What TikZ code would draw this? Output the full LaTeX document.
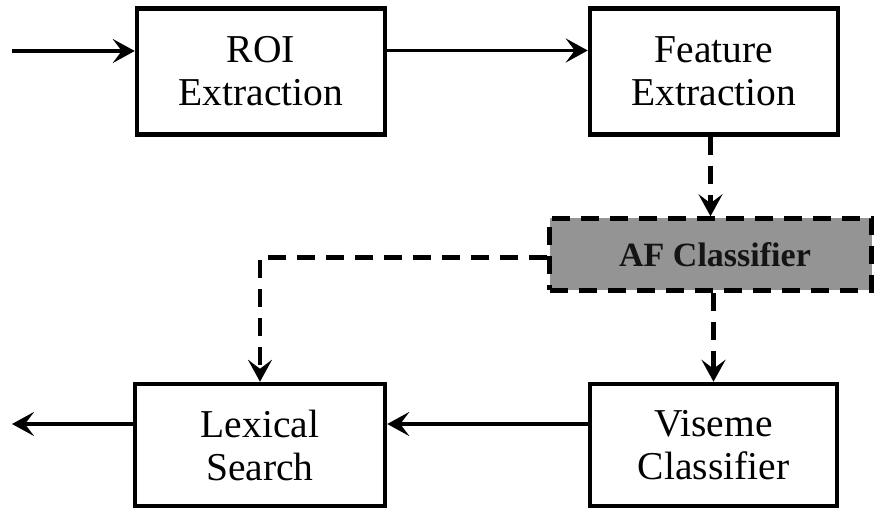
\documentclass[tikz,border=0pt]{standalone}
\usepackage{fontspec}
\setmainfont{Liberation Serif}
\usetikzlibrary{arrows.meta,calc}
\begin{document}
\begin{tikzpicture}[x=1pt,y=1pt,
  blockbox/.style={draw=black, line width=4.5pt, minimum width=248pt, minimum height=126pt,
    align=center, font=\fontsize{39.5}{43}\selectfont, inner sep=0pt},
  afbox/.style={draw=black, line width=4.5pt, dash pattern=on 18pt off 11pt, fill=black!42,
    minimum width=322pt, minimum height=72pt, inner sep=0pt,
    font=\fontsize{34}{40}\selectfont\bfseries, text=black!92},
  tip/.style={-{Stealth[length=22pt,width=24pt,inset=9pt]}},
  flow/.style={line width=3.5pt, tip},
  dflow/.style={line width=4.5pt, dash pattern=on 18pt off 11pt, tip}
]
\useasboundingbox (0,0) rectangle (877,509);

% processing blocks
\node[blockbox] (roi) at (261,437.5) {ROI\\Extraction};
\node[blockbox] (feat) at (714,437.5) {Feature\\Extraction};
\node[blockbox, minimum width=250pt, minimum height=122pt] (lex) at (260,64) {Lexical\\Search};
\node[blockbox, minimum width=247pt, minimum height=122pt] (vis) at (713.5,64) {Viseme\\Classifier};
\node[afbox] (af) at (710.5,254.5) {\hspace*{9pt}AF Classifier};

% input / output ends
\coordinate (in) at (12,458);
\coordinate (out) at (12,85);

% solid flow
\draw[flow] (in) -- (in -| roi.west);
\draw[flow] ([yshift=21pt]roi.east) -- ([yshift=21pt]feat.west);
\draw[flow] ([yshift=21pt]vis.west) -- ([yshift=21pt]lex.east);
\draw[flow] ([yshift=21pt]lex.west) -- (out);

% dashed flow through the AF classifier
\draw[dflow] (feat.south -| af.north) -- (af.north);
\draw[dflow] (af.south -| vis.north) -- (vis.north);
\draw[dflow] ([yshift=-3pt]af.west) -| (lex.north);
\end{tikzpicture}
\end{document}
